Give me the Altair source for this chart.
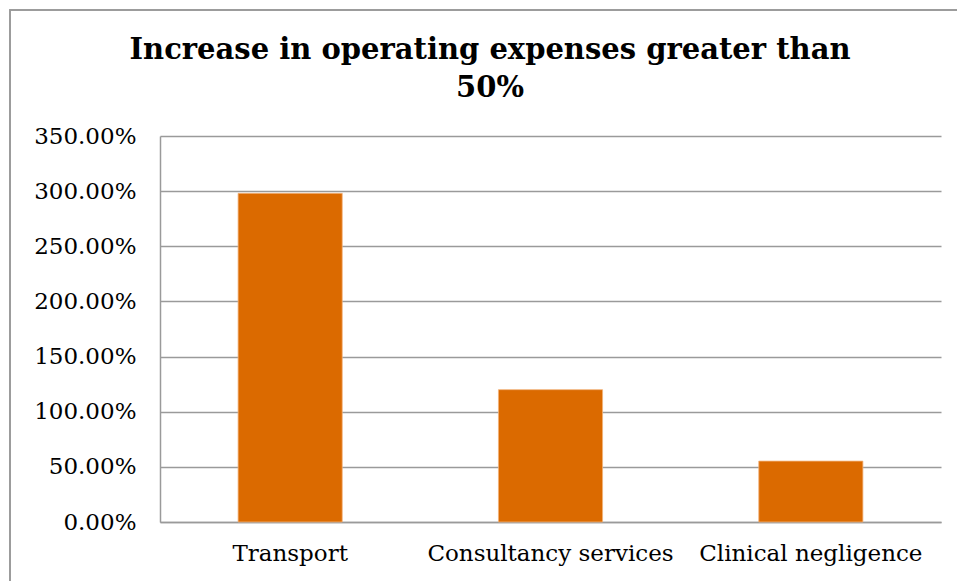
import altair as alt
import pandas as pd

categories = ["Transport", "Consultancy services", "Clinical negligence"]
values = [2.98, 1.20, 0.552]
y_ticks = [0, 0.5, 1.0, 1.5, 2.0, 2.5, 3.0, 3.5]
title_lines = ["Increase in operating expenses greater than", "50%"]

df = pd.DataFrame({"category": categories, "value": values})
tdf = pd.DataFrame({"line": title_lines, "row": [0, 1]})

FONT = "DejaVu Serif"
W, H = 781, 386

bars = alt.Chart(df).mark_bar(color="#DB6A00", stroke="#F2B27A", strokeWidth=0.8).encode(
    x=alt.X("category:N", sort=categories, title=None,
            scale=alt.Scale(paddingInner=0.6, paddingOuter=0.3),
            axis=alt.Axis(labelAngle=0, labelFont=FONT, labelFontSize=23, labelColor="#000",
                          labelPadding=20, labelLimit=0, ticks=False, grid=False,
                          domainColor="#9a9a9a", domainWidth=1.5)),
    y=alt.Y("value:Q", title=None,
            scale=alt.Scale(domain=[0, 3.5], nice=False),
            axis=alt.Axis(values=y_ticks, format=".2%", labelFont=FONT, labelFontSize=23,
                          labelColor="#000", labelPadding=24, labelLimit=0, ticks=False,
                          domainColor="#9a9a9a", domainWidth=1.5,
                          gridColor="#9a9a9a", gridWidth=1.5)),
)

border = alt.Chart(df).mark_rect(fill=None, stroke="#9a9a9a", strokeWidth=1.5).encode(
    x=alt.value(-150), x2=alt.value(W + 40), y=alt.value(-126), y2=alt.value(H + 80)
)

def title_line(row, ypos):
    return alt.Chart(tdf).transform_filter(alt.datum.row == row).mark_text(
        font=FONT, fontSize=29, fontWeight="bold", color="#000", align="center", baseline="middle"
    ).encode(text="line:N", x=alt.value(330), y=alt.value(ypos))

chart = alt.layer(border, bars, title_line(0, -86), title_line(1, -48)).properties(
    width=W, height=H,
    view=alt.ViewBackground(stroke="transparent", strokeWidth=0),
    autosize=alt.AutoSizeParams(type="none"),
    padding={"left": 160, "top": 136, "right": 16, "bottom": 59},
).configure_view(strokeWidth=0, stroke="transparent").configure(background="white")

chart.save("out.html", embed_options={"renderer": "svg", "actions": False})
